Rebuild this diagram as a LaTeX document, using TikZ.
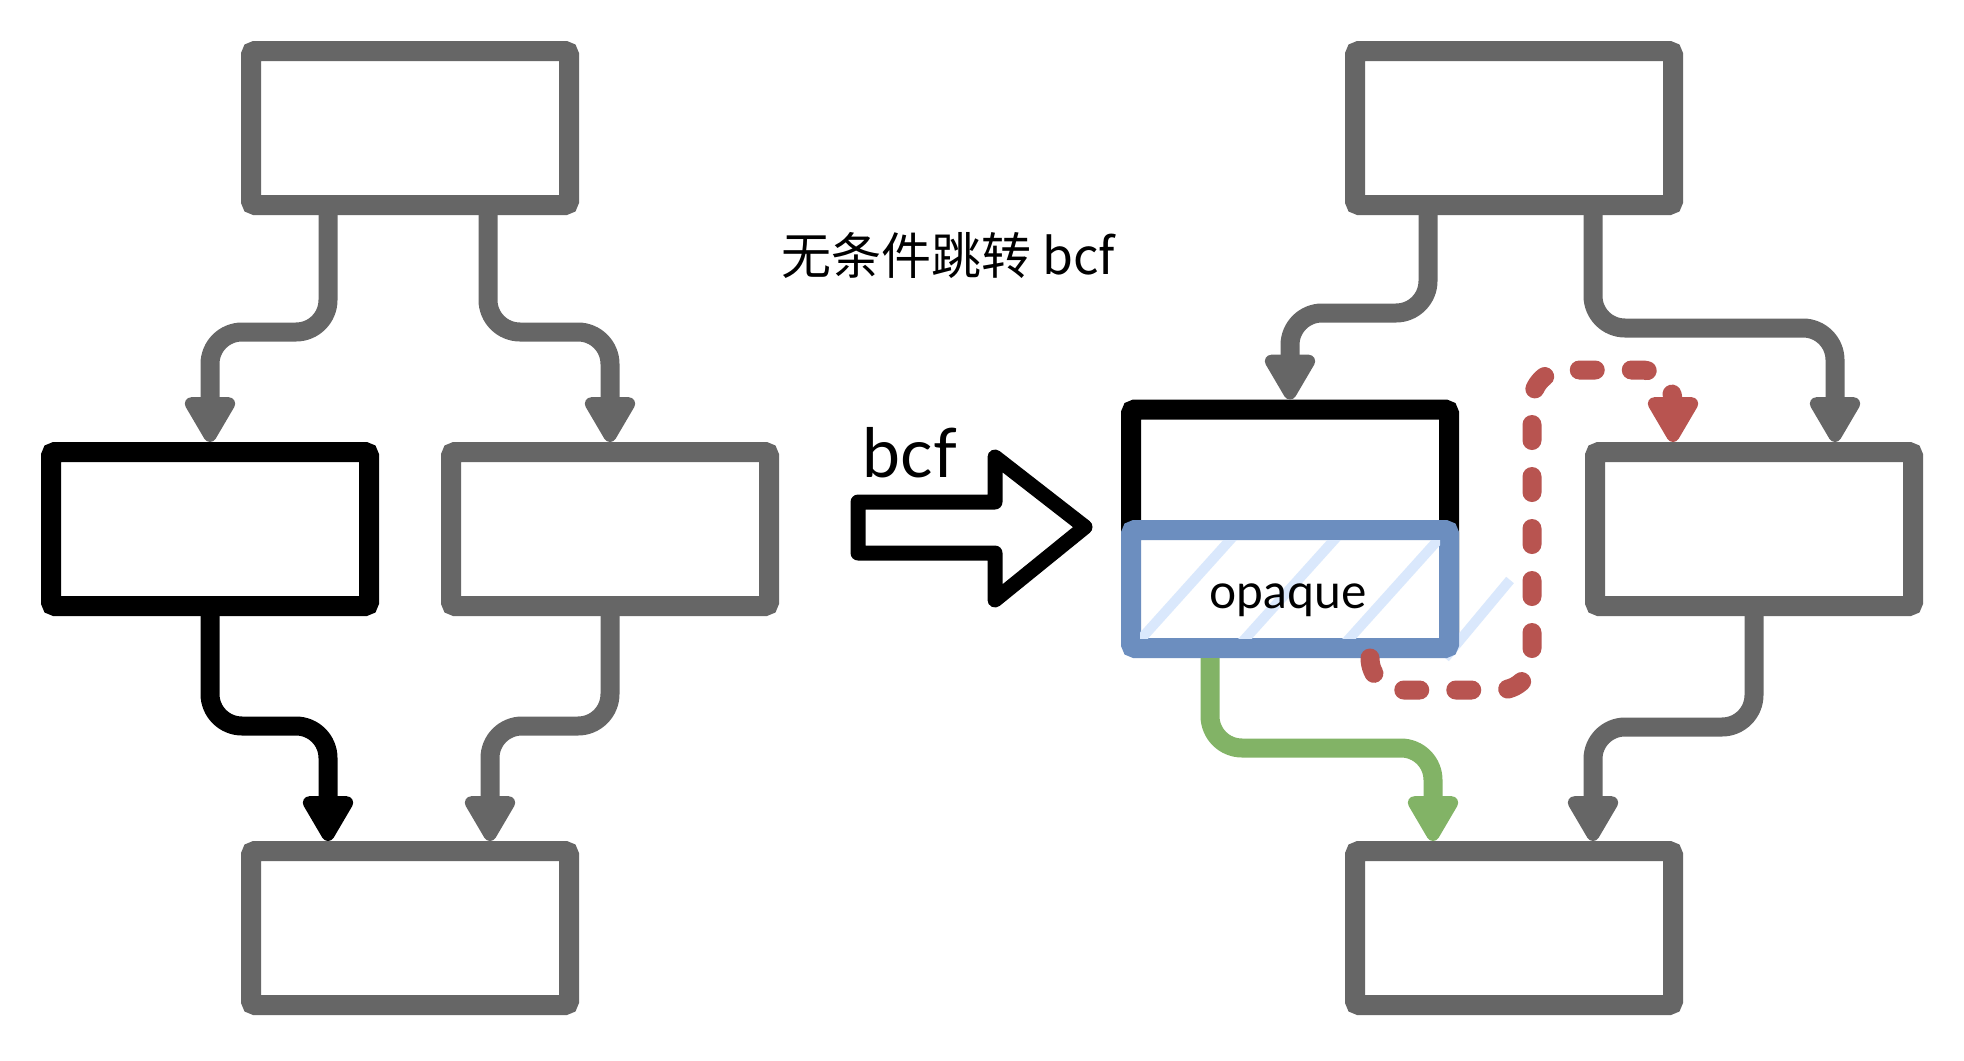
\documentclass[tikz,border=0pt]{standalone}
\usepackage{fontspec}
\newfontfamily\cjk{Noto Sans CJK SC}
\newfontfamily\hand{Lato}
\usetikzlibrary{arrows.meta}
\definecolor{grayc}{HTML}{666666}
\definecolor{bluec}{HTML}{6C8EBF}
\definecolor{hatchc}{HTML}{DAE8FC}
\definecolor{redc}{HTML}{B85450}
\definecolor{greenc}{HTML}{82B366}
\begin{document}
\begin{tikzpicture}[x=0.5pt,y=-0.5pt,
  box/.style={draw=grayc, line width=10pt, fill=white, rounded corners=2pt,
    minimum width=159pt, minimum height=77pt, inner sep=0pt},
  blackbox/.style={box, draw=black},
  conn/.style={draw=grayc, line width=9.5pt, rounded corners=16pt,
    -{Triangle[width=28pt,length=26pt,round]}},
  hatch/.style={draw=hatchc, line width=5pt},
  bigarrow/.style={draw=black, fill=white, line width=7.5pt, line join=round},
]
\useasboundingbox[fill=white] (0,0) rectangle (1964,1060);

% ---------- left diagram ----------
\node[box] (A) at (410,128) {};
\node[blackbox] (B) at (210,529) {};
\node[box] (C) at (610,529) {};
\node[box] (D) at (410,928) {};

\draw[conn] ([xshift=-41pt]A.south) -- ++(0,117) -| (B.north);
\draw[conn] ([xshift=39pt]A.south) -- ++(0,117) -| (C.north);
\draw[conn, draw=black] (B.south) -- ++(0,110) -| ([xshift=-41pt]D.north);
\draw[conn] (C.south) -- ++(0,110) -| ([xshift=40pt]D.north);

% ---------- middle ----------
\node[anchor=base, inner sep=0pt] (title) at (948,274)
  {\cjk\fontsize{25pt}{30pt}\selectfont 无条件跳转 bcf};
\node[anchor=base, inner sep=0pt] (bcf) at (910,477)
  {\hand\fontsize{34pt}{40pt}\selectfont bcf};
\draw[bigarrow] (858,502) -- (995,502) -- (995,457) -- (1085,527)
  -- (995,600) -- (995,553) -- (858,553) -- cycle;

% ---------- right diagram ----------
\draw[hatch] (1445,658) -- (1510,580);
\node[box] (E) at (1514,128) {};
\node[blackbox, minimum height=112.5pt] (F) at (1290,522) {};
\node[box, draw=bluec, minimum height=59pt] (O) at (1290,589) {};
\begin{scope}
  \clip (1140,540) rectangle (1440,638);
  \draw[hatch] (1122,660) -- (1248,520);
  \draw[hatch] (1226,660) -- (1352,520);
  \draw[hatch] (1330,660) -- (1456,520);
\end{scope}
\node[anchor=base, inner sep=0pt] (opq) at (1288,608)
  {\hand\fontsize{24pt}{28pt}\selectfont opaque};
\node[box] (G) at (1754,529) {};
\node[box] (H) at (1514,928) {};

\draw[conn] ([xshift=-43pt]E.south) -- ++(0,98) -| (F.north);
\draw[conn] ([xshift=39.5pt]E.south) -- ++(0,113) -| ([xshift=40.5pt]G.north);
\draw[conn, draw=greenc] ([xshift=-40pt]O.south) -- ++(0,90) -| ([xshift=-40.5pt]H.north);
\draw[conn] (G.south) -- ++(0,111) -| ([xshift=39.5pt]H.north);
\draw[conn, draw=redc, line cap=round, dash pattern=on 8pt off 18pt]
  ([xshift=40pt]O.south) -- ++(0,32) -- (1532,690) -- (1532,370)
  -| ([xshift=-40.5pt]G.north);
\end{tikzpicture}
\end{document}
